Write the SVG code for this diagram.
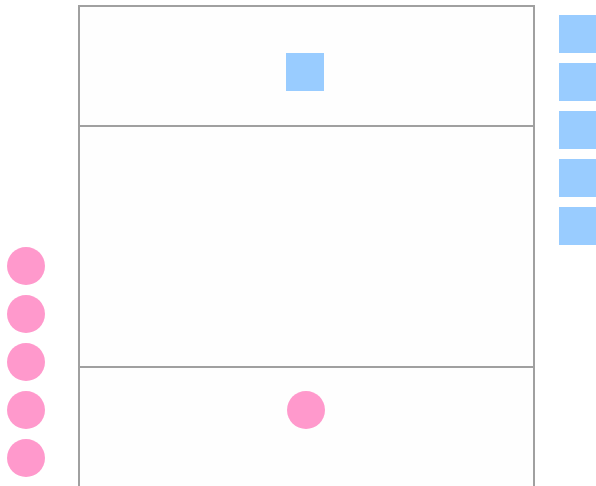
<svg xmlns="http://www.w3.org/2000/svg" width="596" height="486" viewBox="0 0 596 486">
<style>
.frame{fill:#fefefe;stroke:#a0a0a0;stroke-width:2}
.sq{fill:#99ccff}
.ci{fill:#ff99cc}
</style>
<rect x="0" y="0" width="596" height="486" fill="#ffffff"/>
<g id="pool">
<rect class="frame" x="79" y="6" width="455" height="490"/>
<line x1="79" y1="126" x2="534" y2="126" stroke="#a0a0a0" stroke-width="2"/>
<line x1="79" y1="367" x2="534" y2="367" stroke="#a0a0a0" stroke-width="2"/>
</g>
<g id="inner-square"><rect class="sq" x="286" y="53" width="38" height="38"/></g>
<g id="inner-circle"><circle class="ci" cx="306" cy="410" r="19"/></g>
<g id="right-squares">
<rect class="sq" x="559" y="15" width="38" height="38"/>
<rect class="sq" x="559" y="63" width="38" height="38"/>
<rect class="sq" x="559" y="111" width="38" height="38"/>
<rect class="sq" x="559" y="159" width="38" height="38"/>
<rect class="sq" x="559" y="207" width="38" height="38"/>
</g>
<g id="left-circles">
<circle class="ci" cx="26" cy="266" r="19"/>
<circle class="ci" cx="26" cy="314" r="19"/>
<circle class="ci" cx="26" cy="362" r="19"/>
<circle class="ci" cx="26" cy="410" r="19"/>
<circle class="ci" cx="26" cy="458" r="19"/>
</g>
<g id="connectors"/>
</svg>
